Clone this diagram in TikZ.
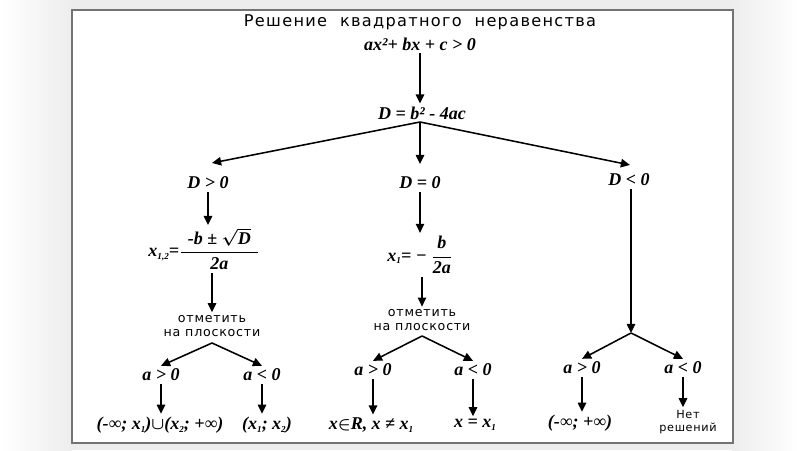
\documentclass[tikz,border=0pt]{standalone}
\usepackage{fontspec}
\setmainfont{Liberation Serif}
\newfontfamily\rusans[LetterSpace=6]{DejaVu Sans}
\newfontfamily\rutitle[LetterSpace=8,WordSpace=2]{DejaVu Sans}
\usetikzlibrary{arrows.meta, positioning, calc}

\newcommand{\formfont}{\fontsize{12.8}{15}\selectfont\bfseries\itshape\boldmath}
\newcommand{\notefont}{\rusans\fontsize{9}{10}\selectfont}
\newcommand{\ix}[1]{\raisebox{-0.35ex}{\fontsize{6.5}{7}\selectfont #1}}

\begin{document}
\begin{tikzpicture}[
    every node/.style={font=\formfont, inner sep=2pt},
    heading/.style={font=\rutitle\fontsize{11.5}{14}\selectfont},
    note/.style={font=\notefont, align=center},
    frame/.style={draw=black!55, line width=1.2pt, fill=white},
    arr/.style={-{Triangle[length=6.5pt, width=6pt]}, line width=1.1pt}
]
\useasboundingbox (0,0) rectangle (20,11.25);

% Фон и рамка
\fill[gray!14] (0,0) rectangle (20,11.25);
\shade[left color=white, right color=gray!14] (0,0) rectangle (1.8,11.25);
\shade[left color=gray!14, right color=white] (18.3,0) rectangle (20,11.25);
\draw[frame] (1.8,0.175) rectangle (18.325,11.0);

% Заголовок и неравенство
\node[heading] (ttl) at (10.5,10.7) {Решение квадратного неравенства};
\node (ineq) at (10.5,10.15) {ax²+ bx + c > 0};
\node (disc) at (10.55,8.425) {D = b² - 4ac};
\draw[arr] (ineq) -- (ineq |- disc.north);

% Три случая дискриминанта
\coordinate (split0) at (10.5,8.2);
\node (dpos) at (5.2,6.675) {D > 0};
\node (dzero) at (10.5,6.675) {D = 0};
\node (dneg) at (15.725,6.75) {D < 0};
\coordinate (tipP) at (5.3,7.175);
\coordinate (tipZ) at (10.5,7.15);
\coordinate (tipN) at (15.75,7.125);
\draw[arr] (split0) -- (tipP);
\draw[arr] (split0) -- (tipZ);
\draw[arr] (split0) -- (tipN);

% Корни
\node (root2) at (5.1,5.025) {x\ix{1,2}=$\displaystyle\frac{\hbox{\kern5pt -b ± $\sqrt{\hbox{D}}$\kern5pt}}{\hbox{2a}}$};
\node (root1) at (10.5,4.875) {x\ix{1}= − $\displaystyle\frac{\hbox{b}}{\hbox{2a}}$};
\draw[arr] (dpos) -- (dpos |- root2.north);
\draw[arr] (dzero) -- (root1);

\node[note] (mark1) at (5.3,3.1) {отметить\\на плоскости};
\node[note] (mark2) at (10.55,3.24) {отметить\\на плоскости};
\draw[arr] (mark1 |- root2.south) -- (mark1);
\draw[arr] (mark2 |- root1.south) -- (mark2);

% Ветвь D > 0
\coordinate (split1) at (5.3,2.675);
\node (apos1) at (4.025,1.875) {a > 0};
\node (aneg1) at (6.55,1.875) {a < 0};
\node (res1) at (4.0,0.625) {(-∞; x\ix{1})$\cup$(x\ix{2}; +∞)};
\node (res2) at (6.675,0.625) {(x\ix{1}; x\ix{2})};
\draw[arr] (split1) -- (apos1.north);
\draw[arr] (split1) -- (aneg1.north);
\draw[arr] (apos1.south) -- (apos1.south |- res1.north);
\draw[arr] (aneg1.south) -- (aneg1.south |- res2.north);

% Ветвь D = 0
\coordinate (split2) at (10.55,2.85);
\node (apos2) at (9.325,2.0) {a > 0};
\node (aneg2) at (11.825,2.0) {a < 0};
\node (res3) at (9.275,0.625) {x$\in$R, x ≠ x\ix{1}};
\node (res4) at (11.875,0.625) {x = x\ix{1}};
\draw[arr] (split2) -- (apos2.north);
\draw[arr] (split2) -- (aneg2.north);
\draw[arr] (apos2.south) -- (apos2.south |- res3.north);
\draw[arr] (aneg2.south) -- (aneg2.south |- res4.north);

% Ветвь D < 0
\coordinate (split3) at (15.775,2.925);
\node (apos3) at (14.55,2.05) {a > 0};
\node (aneg3) at (17.075,2.05) {a < 0};
\node (res5) at (14.5,0.675) {(-∞; +∞)};
\node[note, font=\rusans\fontsize{8}{9}\selectfont] (res6) at (17.2,0.7) {Нет\\решений};
\draw[arr] (dneg.south -| split3) -- (split3);
\draw[arr] (split3) -- (apos3.north);
\draw[arr] (split3) -- (aneg3.north);
\draw[arr] (apos3.south) -- (apos3.south |- res5.north);
\draw[arr] (aneg3.south) -- (aneg3.south |- res6.north);

\end{tikzpicture}
\end{document}
